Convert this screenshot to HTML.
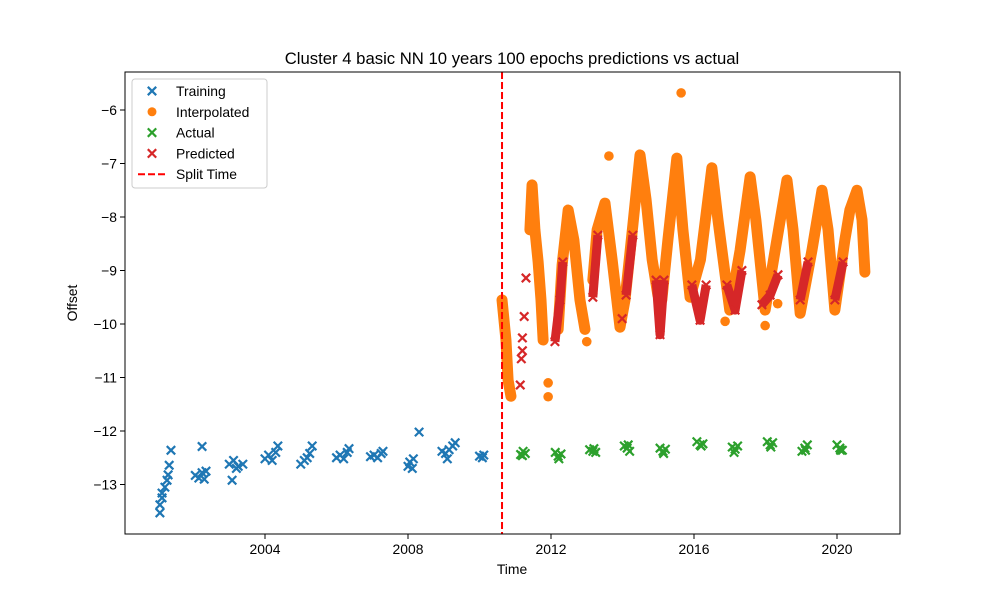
<!DOCTYPE html>
<html><head><meta charset="utf-8">
<style>
body{margin:0;background:#fff;}
svg text{font-family:"Liberation Sans","DejaVu Sans",sans-serif;fill:#000;}
</style></head>
<body>
<svg id="chart" width="1000" height="600" viewBox="0 0 1000 600" xmlns="http://www.w3.org/2000/svg">
<rect width="1000" height="600" fill="#fff"/>
<text x="512" y="64" font-size="16.7" text-anchor="middle">Cluster 4 basic NN 10 years 100 epochs predictions vs actual</text>
<text x="512" y="574" font-size="13.9" text-anchor="middle">Time</text>
<text x="77" y="303" font-size="13.9" text-anchor="middle" transform="rotate(-90 77 303)">Offset</text>
<g id="marks"></g>
<g id="axes"></g>
<g id="legend"></g>
</svg>
<script>
// ---- data (years since 2000, offset) ----
const xTicks = [2004, 2008, 2012, 2016, 2020];
const yTicks = [-6, -7, -8, -9, -10, -11, -12, -13];
const splitYear = 2010.63;
const trainYears = [1.06,1.06,1.12,1.12,1.2,1.26,1.29,1.32,1.37, 2.24,2.05,2.15,2.24,2.35,2.3, 3.08,3.0,3.12,3.25,3.38,3.2, 4.0,4.1,4.2,4.3,4.36, 5.0,5.1,5.18,5.25,5.32, 6.0,6.1,6.2,6.3,6.35, 6.95,7.05,7.15,7.25,7.3, 8.0,8.05,8.15,8.12,8.31, 8.95,9.05,9.15,9.25,9.32,9.1, 10.0,10.08,10.12];
const trainVals = [-13.53,-13.38,-13.25,-13.16,-13.05,-12.92,-12.82,-12.64,-12.36, -12.29,-12.83,-12.88,-12.78,-12.75,-12.9, -12.92,-12.62,-12.55,-12.66,-12.62,-12.7, -12.52,-12.45,-12.55,-12.4,-12.28, -12.62,-12.55,-12.5,-12.42,-12.28, -12.5,-12.45,-12.52,-12.4,-12.33, -12.48,-12.45,-12.5,-12.42,-12.38, -12.66,-12.58,-12.52,-12.7,-12.02, -12.38,-12.42,-12.35,-12.28,-12.22,-12.52, -12.47,-12.5,-12.45];
const actualYears = [11.15,11.22,11.28,11.2, 12.12,12.2,12.28,12.22, 13.08,13.17,13.25,13.2, 14.05,14.13,14.2,14.16, 15.05,15.13,15.2,15.15, 16.08,16.17,16.25,16.2, 17.07,17.15,17.22,17.12, 18.05,18.13,18.2,18.15, 19.02,19.1,19.17,19.12, 20.0,20.08,20.15,20.1];
const actualVals = [-12.44,-12.38,-12.42,-12.46, -12.4,-12.47,-12.43,-12.52, -12.35,-12.38,-12.4,-12.33, -12.28,-12.32,-12.38,-12.26, -12.32,-12.38,-12.34,-12.42, -12.2,-12.26,-12.24,-12.28, -12.3,-12.34,-12.28,-12.4, -12.2,-12.26,-12.22,-12.3, -12.38,-12.32,-12.26,-12.36, -12.26,-12.32,-12.36,-12.36];
const interpYears = [10.63,10.74,10.80,10.88,NaN, 11.41,11.47,11.55,11.64,11.72,11.78,NaN, 12.2,12.31,12.48,12.64,12.81,12.95,NaN, 13.17,13.29,13.51,13.71,13.93,14.07,14.29,14.49,14.66,14.83,14.99,15.1,15.27,15.52,15.69,15.89,16.18,16.5,16.67,17.0,17.29,17.57,17.73,17.99,18.27,18.6,18.77,18.97,19.3,19.58,19.75,19.94,20.22,20.36,20.56,20.7,20.78];
const interpVals = [-9.55,-10.3,-11.05,-11.35,NaN, -8.24,-7.4,-8.24,-8.84,-9.55,-10.3,NaN, -10.1,-8.9,-7.87,-8.43,-9.55,-10.1,NaN, -9.18,-8.24,-7.74,-8.8,-10.06,-9.55,-8.15,-6.84,-7.68,-8.8,-9.46,-9.55,-8.43,-6.9,-8.24,-9.5,-8.8,-7.08,-8.05,-9.74,-8.62,-7.25,-8.05,-9.74,-8.62,-7.31,-8.24,-9.8,-8.62,-7.5,-8.24,-9.74,-8.43,-7.87,-7.5,-8.05,-9.03];
const interpDotYears = [11.92,11.92,13.0,13.62,15.64,16.87,17.99,18.34];
const interpDotVals = [-11.1,-11.36,-10.33,-6.86,-5.68,-9.95,-10.03,-9.62];
const predYears = [11.3,NaN,11.25,NaN,11.2,NaN,11.2,NaN,11.17,NaN,11.14,NaN, 12.11,12.25,12.33,NaN, 13.17,13.31,NaN, 13.99,NaN, 14.1,14.29,NaN, 14.94,15.05,15.16,NaN, 15.94,16.17,16.34,NaN, 16.92,17.15,17.34,NaN, 17.9,18.13,18.35,NaN, 18.97,19.19,NaN, 19.94,20.17];
const predVals = [-9.14,NaN,-9.86,NaN,-10.26,NaN,-10.5,NaN,-10.65,NaN,-11.14,NaN, -10.33,-9.55,-8.84,NaN, -9.5,-8.34,NaN, -9.9,NaN, -9.46,-8.34,NaN, -9.18,-10.2,-9.18,NaN, -9.27,-9.93,-9.27,NaN, -9.27,-9.74,-9.0,NaN, -9.64,-9.46,-9.08,NaN, -9.55,-8.84,NaN, -9.55,-8.84];

const NS = "http://www.w3.org/2000/svg";
const X0 = 125, X1 = 900, Y0 = 72, Y1 = 534;
function xs(y){ return 122 + ((y > 1000 ? y - 2000 : y)) * 35.75; }
function ys(v){ return 110 + (-6 - v) * 53.5; }
function mk(tag, attrs, parent){ const e = document.createElementNS(NS, tag); for (const k in attrs) e.setAttribute(k, attrs[k]); parent.appendChild(e); return e; }
const marks = document.getElementById('marks');
const axes = document.getElementById('axes');
const legend = document.getElementById('legend');

function xMarker(cx, cy, color, parent, r){
  r = r || 4.2;
  return mk('path', {d:`M${cx-r},${cy-r}L${cx+r},${cy+r}M${cx-r},${cy+r}L${cx+r},${cy-r}`, stroke:color, 'stroke-width':2.2, fill:'none'}, parent);
}
function runs(xa, va){
  const out = []; let cur = [];
  for (let i = 0; i < xa.length; i++){
    if (isNaN(xa[i])) { if (cur.length) out.push(cur); cur = []; }
    else cur.push([xs(xa[i]), ys(va[i])]);
  }
  if (cur.length) out.push(cur);
  return out;
}

const gT = mk('g', {}, marks);


for (let i = 0; i < trainYears.length; i++){
  const m = xMarker(xs(trainYears[i]), ys(trainVals[i]), '#1f77b4', gT);
  
  
}
const gI = mk('g', {}, marks);


runs(interpYears, interpVals).forEach(r => {
  const pl = mk('polyline', {points: r.map(p => p.join(',')).join(' '), fill:'none', stroke:'#ff7f0e', 'stroke-width':11, 'stroke-linecap':'round', 'stroke-linejoin':'round'}, gI);
  
  
});
for (let i = 0; i < interpDotYears.length; i++){
  const c = mk('circle', {cx: xs(interpDotYears[i]), cy: ys(interpDotVals[i]), r: 4.8, fill:'#ff7f0e'}, gI);
  
  
}
const gA = mk('g', {}, marks);


for (let i = 0; i < actualYears.length; i++){
  const m = xMarker(xs(actualYears[i]), ys(actualVals[i]), '#2ca02c', gA);
  
  
}
const gP = mk('g', {}, marks);


runs(predYears, predVals).forEach(r => {
  if (r.length > 1){
    const pl = mk('polyline', {points: r.map(p => p.join(',')).join(' '), fill:'none', stroke:'#d62728', 'stroke-width':9, 'stroke-linejoin':'round'}, gP);
    
    
  }
  r.forEach(p => {
    const m = xMarker(p[0], p[1], '#d62728', gP);
    
    
  });
});
const sl = mk('line', {x1: xs(splitYear), x2: xs(splitYear), y1: Y0, y2: Y1, stroke:'#ff0000', 'stroke-width':2, 'stroke-dasharray':'7,3'}, marks);



const fr = mk('rect', {x: X0, y: Y0, width: X1 - X0, height: Y1 - Y0, fill:'none', stroke:'#000', 'stroke-width':1}, axes);


xTicks.forEach(t => {
  const x = xs(t);
  const l = mk('line', {x1:x, x2:x, y1:Y1, y2:Y1+5, stroke:'#000'}, axes);
  
  
  const tx = mk('text', {x:x, y:Y1+20, 'font-size':13.9, 'text-anchor':'middle'}, axes);
  tx.textContent = t;
  
  
});
yTicks.forEach(t => {
  const y = ys(t);
  const l = mk('line', {x1:X0-5, x2:X0, y1:y, y2:y, stroke:'#000'}, axes);
  
  
  const tx = mk('text', {x:X0-8, y:y+5, 'font-size':13.9, 'text-anchor':'end'}, axes);
  tx.textContent = '\u2212' + Math.abs(t);
  
  
});

const lb = mk('rect', {x:132, y:79, width:135, height:109, rx:3, fill:'#fff', 'fill-opacity':0.8, stroke:'#ccc'}, legend);


const entries = [['Training','x','#1f77b4'],['Interpolated','o','#ff7f0e'],['Actual','x','#2ca02c'],['Predicted','x','#d62728'],['Split Time','line','#ff0000']];
entries.forEach((e, i) => {
  const y = 91 + i * 20.8;
  const g = mk('g', {}, legend);
  
  
  if (e[1] === 'x') xMarker(152, y, e[2], g);
  else if (e[1] === 'o') mk('circle', {cx:152, cy:y, r:4.5, fill:e[2]}, g);
  else mk('line', {x1:138, x2:166, y1:y, y2:y, stroke:e[2], 'stroke-width':2, 'stroke-dasharray':'7,3'}, g);
  const t = mk('text', {x:176, y:y+5, 'font-size':13.9}, g);
  t.textContent = e[0];
});
</script>
</body></html>
